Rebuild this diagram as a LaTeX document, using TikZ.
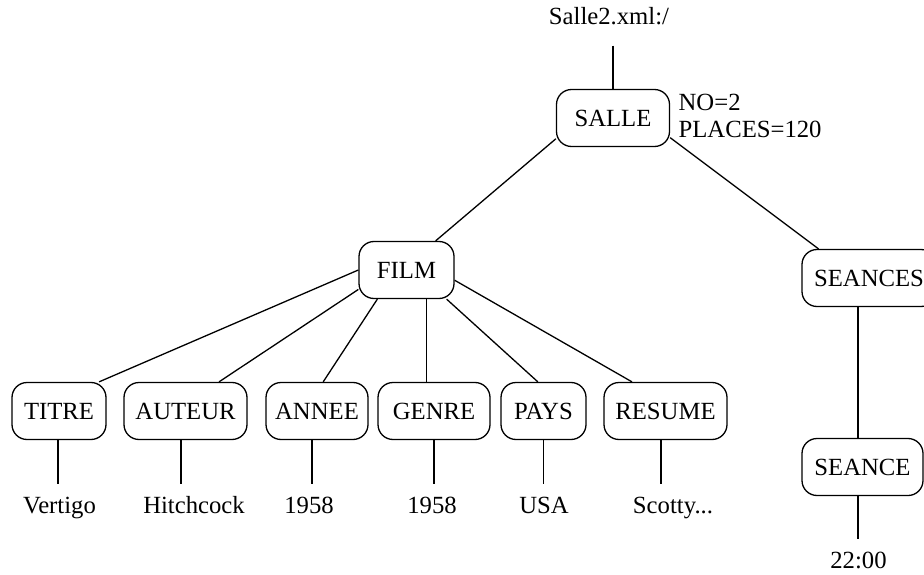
\documentclass[tikz,border=0pt]{standalone}
\usepackage{fontspec}
\setmainfont{Liberation Serif}
\usetikzlibrary{positioning}

\begin{document}
\begin{tikzpicture}[x=1pt, y=-1pt, line width=1.3pt,
    elem/.style={draw, rounded corners=15pt, minimum height=57pt, inner xsep=8pt, font=\fontsize{24.7}{27}\selectfont},
    val/.style={anchor=base, font=\fontsize{24.7}{27}\selectfont, text height=17pt, text depth=5pt, inner xsep=0pt, inner ysep=11pt},
    attr/.style={anchor=base west, inner sep=0pt, font=\fontsize{24.7}{27}\selectfont}]

\useasboundingbox (0,0) rectangle (924,575);
\clip (0,0) rectangle (924,575);

% document root and SALLE element
\node[val] (root) at (609, 25) {Salle2.xml:/};
\node[elem, minimum width=113pt] (salle) at (613, 118) {SALLE};
\node[attr] (no) at (678, 111) {NO=2};
\node[attr] (places) at (678, 138) {PLACES=120};
\draw ([yshift=-4pt]root.south -| salle.north) -- (salle.north);

% FILM and SEANCES
\node[elem, minimum width=95pt] (film) at (406.5, 270) {FILM};
\node[elem, minimum width=134pt] (seances) at (869, 278) {SEANCES};
\draw (salle.200) -- (film.45);
\draw (salle.341) -- (seances.150);

% children of FILM
\node[elem, minimum width=94pt] (titre) at (59, 411) {TITRE};
\node[elem, minimum width=123pt] (auteur) at (185.5, 411) {AUTEUR};
\node[elem, minimum width=102pt] (annee) at (317, 411) {ANNEE};
\node[elem, minimum width=112pt] (genre) at (434, 411) {GENRE};
\node[elem, minimum width=85pt] (pays) at (543.5, 411) {PAYS};
\node[elem, minimum width=123pt] (resume) at (665.5, 411) {RESUME};

\draw (film.west) -- (titre.36);
\draw (film.202) -- (auteur.41);
\draw (film.225) -- (annee.78);
\draw (film.304) -- (film.304 |- genre.north);
\draw (film.324) -- (pays.101);
\draw (film.348) -- (resume.139);

% text values
\node[val] (vertigo) at (59.5, 513) {Vertigo};
\node[val] (hitchcock) at (194, 513) {Hitchcock};
\node[val] (annee-val) at (309, 513) {1958};
\node[val] (genre-val) at (432, 513) {1958};
\node[val] (usa) at (544, 513) {USA};
\node[val] (scotty) at (673, 513) {Scotty...};

\draw ([xshift=-1pt]titre.south) -- ([xshift=-1pt]titre.south |- vertigo.north);
\draw ([xshift=-4.5pt]auteur.south) -- ([xshift=-4.5pt]auteur.south |- hitchcock.north);
\draw ([xshift=-5pt]annee.south) -- ([xshift=-5pt]annee.south |- annee-val.north);
\draw (genre.south) -- (genre.south |- genre-val.north);
\draw (pays.south) -- (pays.south |- usa.north);
\draw ([xshift=-4.5pt]resume.south) -- ([xshift=-4.5pt]resume.south |- scotty.north);

% SEANCE
\node[elem, minimum width=121pt] (seance) at (862.5, 467) {SEANCE};
\node[val] (heure) at (858.5, 568) {22:00};
\draw ([xshift=-4.5pt]seance.north |- seances.south) -- ([xshift=-4.5pt]seance.north);
\draw ([xshift=-4.5pt]seance.south) -- ([xshift=-4.5pt]seance.south |- heure.north);

\end{tikzpicture}
\end{document}
